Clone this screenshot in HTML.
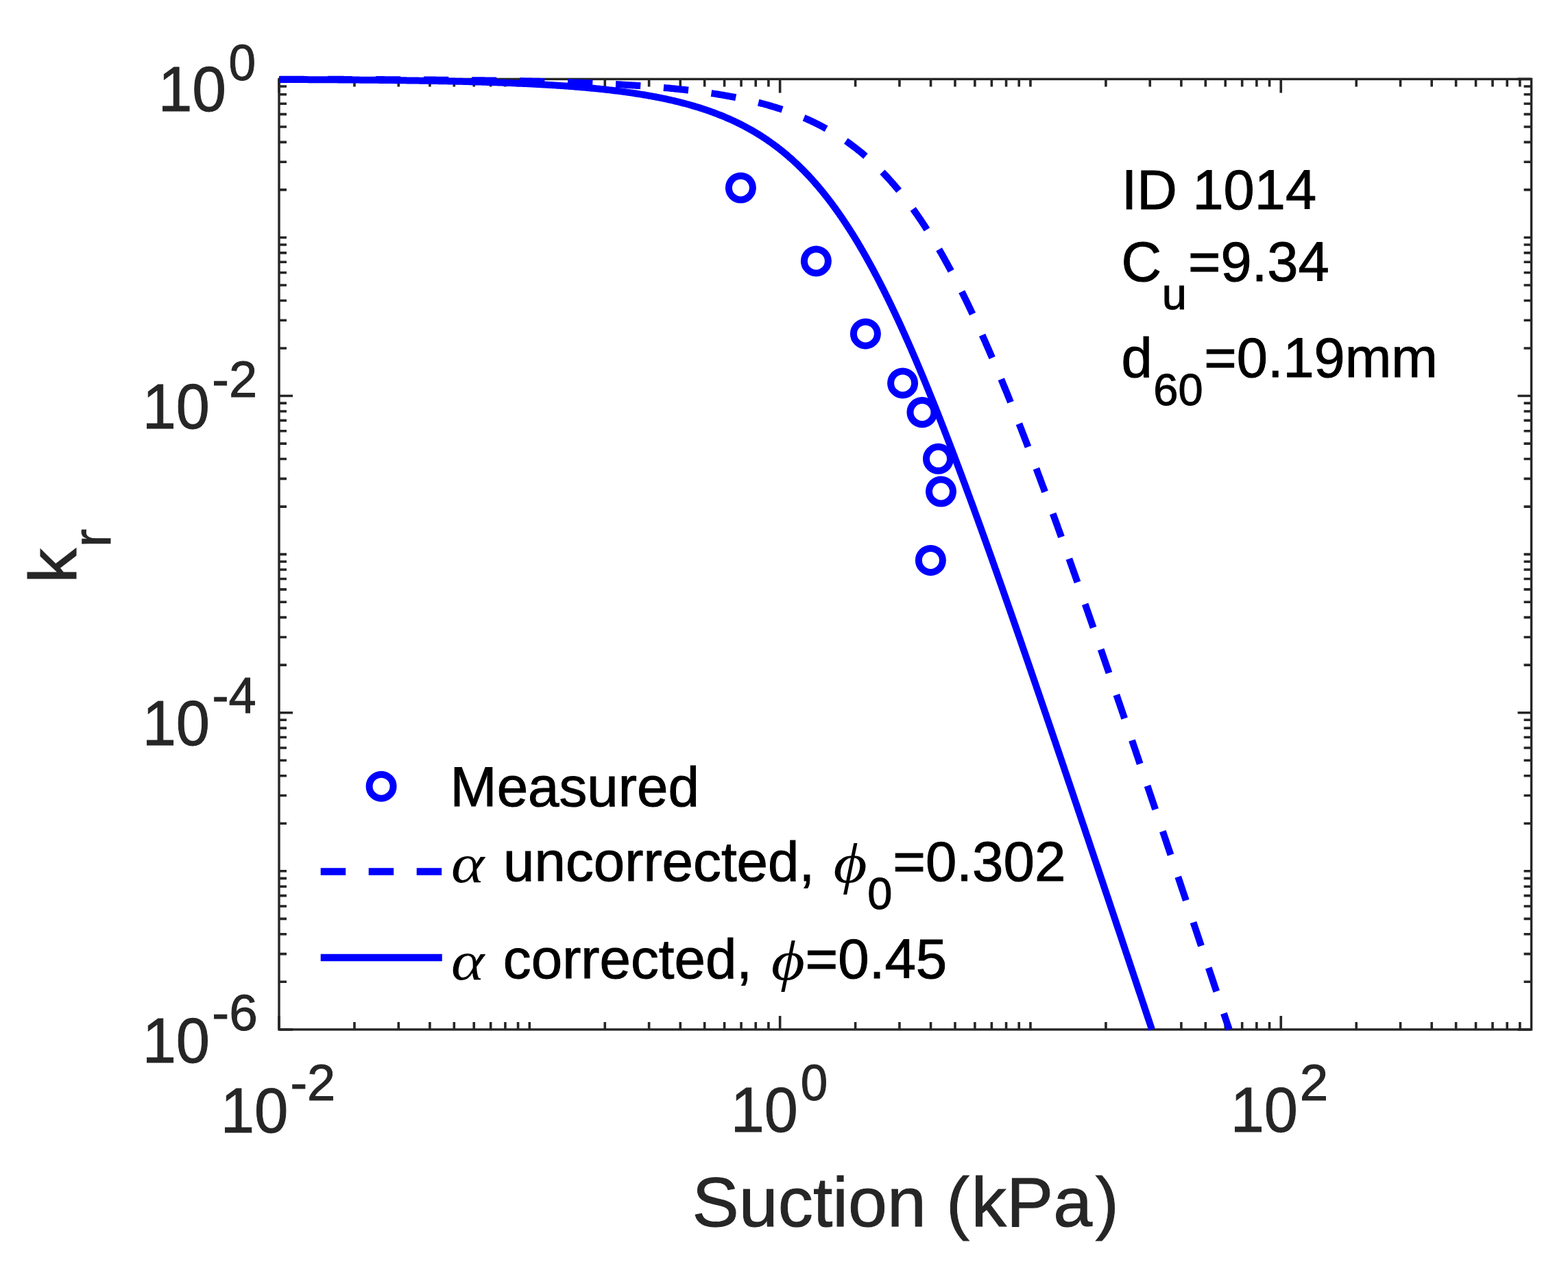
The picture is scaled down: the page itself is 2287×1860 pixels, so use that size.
<!DOCTYPE html>
<html><head><meta charset="utf-8"><title>kr vs suction</title>
<style>html,body{margin:0;padding:0;background:#fff;overflow:hidden;}svg{display:block;}</style></head>
<body><svg width="2287" height="1860" viewBox="0 0 2287 1860">
<rect x="0" y="0" width="2287" height="1860" fill="#fff"/>
<path d="M407.00,1501.88V1481.88M407.00,115.40V135.40M516.97,1501.88V1490.88M516.97,115.40V126.40M581.30,1501.88V1490.88M581.30,115.40V126.40M626.94,1501.88V1490.88M626.94,115.40V126.40M662.35,1501.88V1490.88M662.35,115.40V126.40M691.27,1501.88V1490.88M691.27,115.40V126.40M715.73,1501.88V1490.88M715.73,115.40V126.40M736.92,1501.88V1490.88M736.92,115.40V126.40M755.60,1501.88V1490.88M755.60,115.40V126.40M772.32,1501.88V1490.88M772.32,115.40V126.40M882.29,1501.88V1490.88M882.29,115.40V126.40M946.62,1501.88V1490.88M946.62,115.40V126.40M992.26,1501.88V1490.88M992.26,115.40V126.40M1027.67,1501.88V1490.88M1027.67,115.40V126.40M1056.59,1501.88V1490.88M1056.59,115.40V126.40M1081.05,1501.88V1490.88M1081.05,115.40V126.40M1102.24,1501.88V1490.88M1102.24,115.40V126.40M1120.92,1501.88V1490.88M1120.92,115.40V126.40M1137.64,1501.88V1481.88M1137.64,115.40V135.40M1247.61,1501.88V1490.88M1247.61,115.40V126.40M1311.94,1501.88V1490.88M1311.94,115.40V126.40M1357.58,1501.88V1490.88M1357.58,115.40V126.40M1392.99,1501.88V1490.88M1392.99,115.40V126.40M1421.91,1501.88V1490.88M1421.91,115.40V126.40M1446.37,1501.88V1490.88M1446.37,115.40V126.40M1467.56,1501.88V1490.88M1467.56,115.40V126.40M1486.24,1501.88V1490.88M1486.24,115.40V126.40M1502.96,1501.88V1490.88M1502.96,115.40V126.40M1612.93,1501.88V1490.88M1612.93,115.40V126.40M1677.26,1501.88V1490.88M1677.26,115.40V126.40M1722.90,1501.88V1490.88M1722.90,115.40V126.40M1758.31,1501.88V1490.88M1758.31,115.40V126.40M1787.23,1501.88V1490.88M1787.23,115.40V126.40M1811.69,1501.88V1490.88M1811.69,115.40V126.40M1832.88,1501.88V1490.88M1832.88,115.40V126.40M1851.56,1501.88V1490.88M1851.56,115.40V126.40M1868.28,1501.88V1481.88M1868.28,115.40V135.40M1978.25,1501.88V1490.88M1978.25,115.40V126.40M2042.58,1501.88V1490.88M2042.58,115.40V126.40M2088.22,1501.88V1490.88M2088.22,115.40V126.40M2123.63,1501.88V1490.88M2123.63,115.40V126.40M2152.55,1501.88V1490.88M2152.55,115.40V126.40M2177.01,1501.88V1490.88M2177.01,115.40V126.40M2198.20,1501.88V1490.88M2198.20,115.40V126.40M2216.88,1501.88V1490.88M2216.88,115.40V126.40M407.00,1501.88H427.00M2233.60,1501.88H2213.60M407.00,1432.32H418.00M2233.60,1432.32H2222.60M407.00,1391.63H418.00M2233.60,1391.63H2222.60M407.00,1362.76H418.00M2233.60,1362.76H2222.60M407.00,1340.36H418.00M2233.60,1340.36H2222.60M407.00,1322.06H418.00M2233.60,1322.06H2222.60M407.00,1306.59H418.00M2233.60,1306.59H2222.60M407.00,1293.19H418.00M2233.60,1293.19H2222.60M407.00,1281.37H418.00M2233.60,1281.37H2222.60M407.00,1270.80H418.00M2233.60,1270.80H2222.60M407.00,1201.24H418.00M2233.60,1201.24H2222.60M407.00,1160.55H418.00M2233.60,1160.55H2222.60M407.00,1131.68H418.00M2233.60,1131.68H2222.60M407.00,1109.28H418.00M2233.60,1109.28H2222.60M407.00,1090.98H418.00M2233.60,1090.98H2222.60M407.00,1075.51H418.00M2233.60,1075.51H2222.60M407.00,1062.11H418.00M2233.60,1062.11H2222.60M407.00,1050.29H418.00M2233.60,1050.29H2222.60M407.00,1039.72H427.00M2233.60,1039.72H2213.60M407.00,970.16H418.00M2233.60,970.16H2222.60M407.00,929.47H418.00M2233.60,929.47H2222.60M407.00,900.60H418.00M2233.60,900.60H2222.60M407.00,878.20H418.00M2233.60,878.20H2222.60M407.00,859.90H418.00M2233.60,859.90H2222.60M407.00,844.43H418.00M2233.60,844.43H2222.60M407.00,831.03H418.00M2233.60,831.03H2222.60M407.00,819.21H418.00M2233.60,819.21H2222.60M407.00,808.64H418.00M2233.60,808.64H2222.60M407.00,739.08H418.00M2233.60,739.08H2222.60M407.00,698.39H418.00M2233.60,698.39H2222.60M407.00,669.52H418.00M2233.60,669.52H2222.60M407.00,647.12H418.00M2233.60,647.12H2222.60M407.00,628.82H418.00M2233.60,628.82H2222.60M407.00,613.35H418.00M2233.60,613.35H2222.60M407.00,599.95H418.00M2233.60,599.95H2222.60M407.00,588.13H418.00M2233.60,588.13H2222.60M407.00,577.56H427.00M2233.60,577.56H2213.60M407.00,508.00H418.00M2233.60,508.00H2222.60M407.00,467.31H418.00M2233.60,467.31H2222.60M407.00,438.44H418.00M2233.60,438.44H2222.60M407.00,416.04H418.00M2233.60,416.04H2222.60M407.00,397.74H418.00M2233.60,397.74H2222.60M407.00,382.27H418.00M2233.60,382.27H2222.60M407.00,368.87H418.00M2233.60,368.87H2222.60M407.00,357.05H418.00M2233.60,357.05H2222.60M407.00,346.48H418.00M2233.60,346.48H2222.60M407.00,276.92H418.00M2233.60,276.92H2222.60M407.00,236.23H418.00M2233.60,236.23H2222.60M407.00,207.36H418.00M2233.60,207.36H2222.60M407.00,184.96H418.00M2233.60,184.96H2222.60M407.00,166.66H418.00M2233.60,166.66H2222.60M407.00,151.19H418.00M2233.60,151.19H2222.60M407.00,137.79H418.00M2233.60,137.79H2222.60M407.00,125.97H418.00M2233.60,125.97H2222.60M407.00,115.40H427.00M2233.60,115.40H2213.60" stroke="#262626" stroke-width="3.6" fill="none"/>
<rect x="407.0" y="115.4" width="1826.60" height="1386.48" stroke="#262626" stroke-width="3.4" fill="none"/>
<path d="M407.00,115.65 L409.28,115.65 L411.57,115.66 L413.85,115.66 L416.13,115.66 L418.42,115.67 L420.70,115.67 L422.98,115.68 L425.27,115.68 L427.55,115.69 L429.83,115.69 L432.12,115.69 L434.40,115.70 L436.68,115.70 L438.97,115.71 L441.25,115.71 L443.53,115.72 L445.82,115.72 L448.10,115.73 L450.38,115.73 L452.67,115.74 L454.95,115.74 L457.23,115.75 L459.51,115.76 L461.80,115.76 L464.08,115.77 L466.36,115.77 L468.65,115.78 L470.93,115.79 L473.21,115.79 L475.50,115.80 L477.78,115.80 L480.06,115.81 L482.35,115.82 L484.63,115.82 L486.91,115.83 L489.20,115.84 L491.48,115.84 L493.76,115.85 L496.05,115.86 L498.33,115.87 L500.61,115.87 L502.90,115.88 L505.18,115.89 L507.46,115.90 L509.75,115.90 L512.03,115.91 L514.31,115.92 L516.60,115.93 L518.88,115.94 L521.16,115.95 L523.45,115.95 L525.73,115.96 L528.01,115.97 L530.30,115.98 L532.58,115.99 L534.86,116.00 L537.15,116.01 L539.43,116.02 L541.71,116.03 L544.00,116.04 L546.28,116.05 L548.56,116.06 L550.84,116.07 L553.13,116.08 L555.41,116.09 L557.69,116.10 L559.98,116.11 L562.26,116.13 L564.54,116.14 L566.83,116.15 L569.11,116.16 L571.39,116.17 L573.68,116.19 L575.96,116.20 L578.24,116.21 L580.53,116.22 L582.81,116.24 L585.09,116.25 L587.38,116.26 L589.66,116.28 L591.94,116.29 L594.23,116.31 L596.51,116.32 L598.79,116.34 L601.08,116.35 L603.36,116.37 L605.64,116.38 L607.93,116.40 L610.21,116.41 L612.49,116.43 L614.78,116.45 L617.06,116.46 L619.34,116.48 L621.63,116.50 L623.91,116.51 L626.19,116.53 L628.48,116.55 L630.76,116.57 L633.04,116.59 L635.33,116.61 L637.61,116.63 L639.89,116.64 L642.17,116.66 L644.46,116.68 L646.74,116.71 L649.02,116.73 L651.31,116.75 L653.59,116.77 L655.87,116.79 L658.16,116.81 L660.44,116.84 L662.72,116.86 L665.01,116.88 L667.29,116.91 L669.57,116.93 L671.86,116.95 L674.14,116.98 L676.42,117.01 L678.71,117.03 L680.99,117.06 L683.27,117.08 L685.56,117.11 L687.84,117.14 L690.12,117.17 L692.41,117.19 L694.69,117.22 L696.97,117.25 L699.26,117.28 L701.54,117.31 L703.82,117.34 L706.11,117.37 L708.39,117.41 L710.67,117.44 L712.96,117.47 L715.24,117.50 L717.52,117.54 L719.81,117.57 L722.09,117.61 L724.37,117.64 L726.65,117.68 L728.94,117.71 L731.22,117.75 L733.50,117.79 L735.79,117.83 L738.07,117.87 L740.35,117.91 L742.64,117.95 L744.92,117.99 L747.20,118.03 L749.49,118.07 L751.77,118.11 L754.05,118.16 L756.34,118.20 L758.62,118.25 L760.90,118.29 L763.19,118.34 L765.47,118.39 L767.75,118.44 L770.04,118.48 L772.32,118.53 L774.60,118.58 L776.89,118.64 L779.17,118.69 L781.45,118.74 L783.74,118.79 L786.02,118.85 L788.30,118.90 L790.59,118.96 L792.87,119.02 L795.15,119.08 L797.44,119.14 L799.72,119.20 L802.00,119.26 L804.29,119.32 L806.57,119.38 L808.85,119.45 L811.14,119.51 L813.42,119.58 L815.70,119.65 L817.99,119.72 L820.27,119.78 L822.55,119.86 L824.83,119.93 L827.12,120.00 L829.40,120.08 L831.68,120.15 L833.97,120.23 L836.25,120.31 L838.53,120.39 L840.82,120.47 L843.10,120.55 L845.38,120.63 L847.67,120.72 L849.95,120.80 L852.23,120.89 L854.52,120.98 L856.80,121.07 L859.08,121.16 L861.37,121.25 L863.65,121.35 L865.93,121.45 L868.22,121.54 L870.50,121.64 L872.78,121.75 L875.07,121.85 L877.35,121.95 L879.63,122.06 L881.92,122.17 L884.20,122.28 L886.48,122.39 L888.77,122.50 L891.05,122.62 L893.33,122.74 L895.62,122.86 L897.90,122.98 L900.18,123.10 L902.47,123.23 L904.75,123.36 L907.03,123.49 L909.32,123.62 L911.60,123.75 L913.88,123.89 L916.16,124.03 L918.45,124.17 L920.73,124.31 L923.01,124.46 L925.30,124.61 L927.58,124.76 L929.86,124.91 L932.15,125.07 L934.43,125.22 L936.71,125.38 L939.00,125.55 L941.28,125.72 L943.56,125.88 L945.85,126.06 L948.13,126.23 L950.41,126.41 L952.70,126.59 L954.98,126.78 L957.26,126.96 L959.55,127.15 L961.83,127.35 L964.11,127.54 L966.40,127.74 L968.68,127.95 L970.96,128.15 L973.25,128.37 L975.53,128.58 L977.36,128.75 L979.18,128.93 L981.01,129.11 L982.84,129.29 L984.66,129.47 L986.49,129.66 L988.32,129.85 L990.14,130.04 L991.97,130.23 L993.80,130.43 L995.62,130.63 L997.45,130.83 L999.28,131.04 L1001.10,131.24 L1002.93,131.45 L1004.75,131.67 L1006.58,131.88 L1008.41,132.10 L1010.23,132.33 L1012.06,132.55 L1013.89,132.78 L1015.71,133.01 L1017.54,133.25 L1019.37,133.48 L1021.19,133.73 L1023.02,133.97 L1024.85,134.22 L1026.67,134.47 L1028.50,134.72 L1030.33,134.98 L1032.15,135.24 L1033.98,135.51 L1035.81,135.78 L1037.63,136.05 L1039.46,136.33 L1041.29,136.61 L1043.11,136.90 L1044.94,137.18 L1046.77,137.48 L1048.59,137.77 L1050.42,138.08 L1052.25,138.38 L1054.07,138.69 L1055.90,139.00 L1057.73,139.32 L1059.55,139.64 L1061.38,139.97 L1063.21,140.30 L1065.03,140.64 L1066.86,140.98 L1068.69,141.33 L1070.51,141.68 L1072.34,142.03 L1074.17,142.40 L1075.99,142.76 L1077.82,143.13 L1079.65,143.51 L1081.47,143.89 L1083.30,144.28 L1085.13,144.67 L1086.95,145.07 L1088.78,145.47 L1090.61,145.88 L1092.43,146.30 L1094.26,146.72 L1096.08,147.15 L1097.91,147.58 L1099.74,148.02 L1101.56,148.47 L1103.39,148.92 L1105.22,149.38 L1107.04,149.84 L1108.87,150.32 L1110.70,150.80 L1112.52,151.28 L1114.35,151.77 L1116.18,152.27 L1118.00,152.78 L1119.83,153.30 L1121.66,153.82 L1123.48,154.35 L1125.31,154.88 L1127.14,155.43 L1128.96,155.98 L1130.79,156.54 L1132.62,157.11 L1134.44,157.69 L1136.27,158.27 L1138.10,158.87 L1139.92,159.47 L1141.75,160.08 L1143.58,160.70 L1145.40,161.33 L1147.23,161.96 L1149.06,162.61 L1150.88,163.27 L1152.71,163.93 L1154.54,164.61 L1156.36,165.29 L1158.19,165.99 L1160.02,166.69 L1161.84,167.41 L1163.67,168.14 L1165.50,168.87 L1167.32,169.62 L1169.15,170.38 L1170.98,171.15 L1172.80,171.93 L1174.63,172.72 L1176.46,173.52 L1178.28,174.34 L1180.11,175.16 L1181.94,176.00 L1183.30,176.64 L1184.67,177.28 L1186.04,177.93 L1187.41,178.59 L1188.78,179.26 L1190.15,179.93 L1191.52,180.61 L1192.89,181.30 L1194.26,181.99 L1195.63,182.69 L1197.00,183.40 L1198.37,184.12 L1199.74,184.85 L1201.11,185.58 L1202.48,186.32 L1203.85,187.07 L1205.22,187.83 L1206.59,188.59 L1207.96,189.36 L1209.33,190.15 L1210.70,190.94 L1212.07,191.73 L1213.44,192.54 L1214.81,193.36 L1216.18,194.18 L1217.55,195.02 L1218.92,195.86 L1220.29,196.71 L1221.66,197.57 L1223.03,198.44 L1224.40,199.32 L1225.77,200.21 L1227.14,201.11 L1228.51,202.02 L1229.88,202.93 L1231.25,203.86 L1232.62,204.80 L1233.99,205.75 L1235.36,206.70 L1236.73,207.67 L1238.10,208.65 L1239.47,209.64 L1240.84,210.63 L1242.21,211.64 L1243.58,212.66 L1244.95,213.69 L1246.32,214.73 L1247.69,215.79 L1249.06,216.85 L1250.43,217.92 L1251.80,219.01 L1253.17,220.11 L1254.54,221.21 L1255.91,222.33 L1257.28,223.46 L1258.65,224.61 L1260.02,225.76 L1261.39,226.93 L1262.76,228.11 L1264.13,229.30 L1265.50,230.50 L1266.87,231.71 L1268.24,232.94 L1269.61,234.18 L1270.98,235.43 L1272.35,236.70 L1273.72,237.98 L1275.09,239.27 L1276.46,240.57 L1277.83,241.89 L1279.20,243.22 L1280.57,244.56 L1281.94,245.91 L1283.31,247.28 L1284.68,248.67 L1286.05,250.06 L1287.42,251.47 L1288.79,252.90 L1290.16,254.34 L1291.53,255.79 L1292.90,257.25 L1294.27,258.73 L1295.64,260.23 L1297.01,261.74 L1298.38,263.26 L1299.75,264.80 L1301.12,266.35 L1302.49,267.91 L1303.86,269.49 L1305.23,271.09 L1306.60,272.70 L1307.97,274.33 L1308.88,275.42 L1309.80,276.52 L1310.71,277.62 L1311.62,278.73 L1312.54,279.85 L1313.45,280.98 L1314.36,282.11 L1315.28,283.25 L1316.19,284.39 L1317.10,285.55 L1318.02,286.71 L1318.93,287.87 L1319.84,289.05 L1320.76,290.23 L1321.67,291.42 L1322.58,292.61 L1323.50,293.81 L1324.41,295.02 L1325.32,296.23 L1326.24,297.46 L1327.15,298.69 L1328.06,299.92 L1328.98,301.17 L1329.89,302.42 L1330.80,303.67 L1331.72,304.94 L1332.63,306.21 L1333.54,307.49 L1334.46,308.77 L1335.37,310.07 L1336.28,311.37 L1337.20,312.68 L1338.11,313.99 L1339.02,315.31 L1339.94,316.64 L1340.85,317.98 L1341.76,319.32 L1342.68,320.67 L1343.59,322.03 L1344.50,323.40 L1345.42,324.77 L1346.33,326.15 L1347.24,327.54 L1348.16,328.93 L1349.07,330.33 L1349.98,331.74 L1350.90,333.16 L1351.81,334.58 L1352.72,336.01 L1353.64,337.45 L1354.55,338.90 L1355.46,340.35 L1356.38,341.81 L1357.29,343.28 L1358.20,344.75 L1359.12,346.24 L1360.03,347.73 L1360.94,349.22 L1361.86,350.73 L1362.77,352.24 L1363.68,353.76 L1364.60,355.28 L1365.51,356.82 L1366.42,358.36 L1367.33,359.91 L1368.25,361.46 L1369.16,363.03 L1370.07,364.60 L1370.99,366.17 L1371.90,367.76 L1372.81,369.35 L1373.73,370.95 L1374.64,372.56 L1375.55,374.17 L1376.47,375.79 L1377.38,377.42 L1378.29,379.06 L1379.21,380.70 L1380.12,382.35 L1381.03,384.01 L1381.95,385.67 L1382.86,387.34 L1383.77,389.02 L1384.69,390.71 L1385.60,392.40 L1386.51,394.10 L1387.43,395.81 L1388.34,397.52 L1389.25,399.24 L1390.17,400.97 L1391.08,402.71 L1391.99,404.45 L1392.91,406.20 L1393.82,407.96 L1394.73,409.72 L1395.65,411.50 L1396.56,413.27 L1397.47,415.06 L1398.39,416.85 L1399.30,418.65 L1400.21,420.46 L1401.13,422.27 L1402.04,424.09 L1402.95,425.91 L1403.87,427.75 L1404.78,429.59 L1405.69,431.43 L1406.61,433.29 L1407.52,435.15 L1408.43,437.01 L1409.35,438.89 L1410.26,440.77 L1411.17,442.66 L1412.09,444.55 L1413.00,446.45 L1413.91,448.36 L1414.83,450.27 L1415.74,452.19 L1416.65,454.12 L1417.57,456.05 L1418.48,457.99 L1419.39,459.93 L1420.31,461.89 L1421.22,463.84 L1422.13,465.81 L1423.05,467.78 L1423.96,469.76 L1424.87,471.74 L1425.79,473.73 L1426.70,475.73 L1427.61,477.73 L1428.53,479.74 L1429.44,481.75 L1430.35,483.77 L1431.27,485.80 L1432.18,487.83 L1433.09,489.87 L1434.01,491.92 L1434.92,493.97 L1435.83,496.02 L1436.75,498.09 L1437.66,500.15 L1438.57,502.23 L1439.49,504.31 L1440.40,506.39 L1441.31,508.48 L1442.23,510.58 L1443.14,512.68 L1444.05,514.79 L1444.97,516.91 L1445.88,519.03 L1446.79,521.15 L1447.71,523.28 L1448.62,525.42 L1449.53,527.56 L1450.45,529.70 L1451.36,531.86 L1452.27,534.01 L1453.19,536.18 L1454.10,538.35 L1455.01,540.52 L1455.93,542.70 L1456.84,544.88 L1457.75,547.07 L1458.66,549.26 L1459.58,551.46 L1460.49,553.67 L1461.40,555.87 L1462.32,558.09 L1463.23,560.31 L1464.14,562.53 L1465.06,564.76 L1465.97,566.99 L1466.88,569.23 L1467.80,571.47 L1468.71,573.72 L1469.62,575.98 L1470.54,578.23 L1471.45,580.49 L1472.36,582.76 L1473.28,585.03 L1474.19,587.31 L1475.10,589.59 L1476.02,591.87 L1476.93,594.16 L1477.84,596.45 L1478.76,598.75 L1479.67,601.05 L1480.58,603.36 L1481.50,605.67 L1482.41,607.99 L1483.32,610.30 L1484.24,612.63 L1485.15,614.95 L1486.06,617.29 L1486.98,619.62 L1487.89,621.96 L1488.80,624.31 L1489.72,626.65 L1490.63,629.00 L1491.54,631.36 L1492.46,633.72 L1493.37,636.08 L1494.28,638.45 L1495.20,640.82 L1496.11,643.19 L1497.02,645.57 L1497.94,647.96 L1498.85,650.34 L1499.76,652.73 L1500.68,655.12 L1501.59,657.52 L1502.50,659.92 L1503.42,662.32 L1504.33,664.73 L1505.24,667.14 L1506.16,669.55 L1507.07,671.97 L1507.98,674.39 L1508.90,676.82 L1509.81,679.24 L1510.72,681.67 L1511.64,684.11 L1512.55,686.55 L1513.46,688.99 L1514.38,691.43 L1515.29,693.88 L1516.20,696.33 L1517.12,698.78 L1518.03,701.23 L1518.94,703.69 L1519.86,706.15 L1520.77,708.62 L1521.68,711.09 L1522.60,713.56 L1523.51,716.03 L1524.42,718.51 L1525.34,720.99 L1526.25,723.47 L1527.16,725.95 L1528.08,728.44 L1528.99,730.93 L1529.90,733.42 L1530.82,735.92 L1531.73,738.42 L1532.64,740.92 L1533.56,743.42 L1534.47,745.93 L1535.38,748.44 L1536.30,750.95 L1537.21,753.46 L1538.12,755.98 L1539.04,758.50 L1539.95,761.02 L1540.86,763.54 L1541.78,766.07 L1542.69,768.60 L1543.60,771.13 L1544.52,773.66 L1545.43,776.19 L1546.34,778.73 L1547.26,781.27 L1548.17,783.81 L1549.08,786.36 L1549.99,788.90 L1550.91,791.45 L1551.82,794.00 L1552.73,796.56 L1553.65,799.11 L1554.56,801.67 L1555.47,804.23 L1556.39,806.79 L1557.30,809.35 L1558.21,811.91 L1559.13,814.48 L1560.04,817.05 L1560.95,819.62 L1561.87,822.19 L1562.78,824.77 L1563.69,827.34 L1564.61,829.92 L1565.52,832.50 L1566.43,835.09 L1567.35,837.67 L1568.26,840.25 L1569.17,842.84 L1570.09,845.43 L1571.00,848.02 L1571.91,850.61 L1572.83,853.21 L1573.74,855.80 L1574.65,858.40 L1575.57,861.00 L1576.48,863.60 L1577.39,866.20 L1578.31,868.81 L1579.22,871.41 L1580.13,874.02 L1581.05,876.63 L1581.96,879.24 L1582.87,881.85 L1583.79,884.46 L1584.70,887.08 L1585.61,889.69 L1586.53,892.31 L1587.44,894.93 L1588.35,897.55 L1589.27,900.17 L1590.18,902.79 L1591.09,905.42 L1592.01,908.04 L1592.92,910.67 L1593.83,913.30 L1594.75,915.93 L1595.66,918.56 L1596.57,921.19 L1597.49,923.82 L1598.40,926.46 L1599.31,929.09 L1600.23,931.73 L1601.14,934.37 L1602.05,937.01 L1602.97,939.65 L1603.88,942.29 L1604.79,944.93 L1605.71,947.58 L1606.62,950.22 L1607.53,952.87 L1608.45,955.52 L1609.36,958.17 L1610.27,960.81 L1611.19,963.47 L1612.10,966.12 L1613.01,968.77 L1613.93,971.42 L1614.84,974.08 L1615.75,976.73 L1616.67,979.39 L1617.58,982.05 L1618.49,984.71 L1619.41,987.37 L1620.32,990.03 L1621.23,992.69 L1622.15,995.35 L1623.06,998.02 L1623.97,1000.68 L1624.89,1003.35 L1625.80,1006.01 L1626.71,1008.68 L1627.63,1011.35 L1628.54,1014.02 L1629.45,1016.69 L1630.37,1019.36 L1631.28,1022.03 L1632.19,1024.70 L1633.11,1027.37 L1634.02,1030.05 L1634.93,1032.72 L1635.85,1035.40 L1636.76,1038.07 L1637.67,1040.75 L1638.59,1043.43 L1639.50,1046.11 L1640.41,1048.79 L1641.32,1051.47 L1642.24,1054.15 L1643.15,1056.83 L1644.06,1059.51 L1644.98,1062.19 L1645.89,1064.88 L1646.80,1067.56 L1647.72,1070.24 L1648.63,1072.93 L1649.54,1075.62 L1650.46,1078.30 L1651.37,1080.99 L1652.28,1083.68 L1653.20,1086.37 L1654.11,1089.06 L1655.02,1091.75 L1655.94,1094.44 L1656.85,1097.13 L1657.76,1099.82 L1658.68,1102.51 L1659.59,1105.21 L1660.50,1107.90 L1661.42,1110.59 L1662.33,1113.29 L1663.24,1115.98 L1664.16,1118.68 L1665.07,1121.38 L1665.98,1124.07 L1666.90,1126.77 L1667.81,1129.47 L1668.72,1132.17 L1669.64,1134.87 L1670.55,1137.56 L1671.46,1140.26 L1672.38,1142.97 L1673.29,1145.67 L1674.20,1148.37 L1675.12,1151.07 L1676.03,1153.77 L1676.94,1156.48 L1677.86,1159.18 L1678.77,1161.88 L1679.68,1164.59 L1680.60,1167.29 L1681.51,1170.00 L1682.42,1172.70 L1683.34,1175.41 L1684.25,1178.11 L1685.16,1180.82 L1686.08,1183.53 L1686.99,1186.24 L1687.90,1188.94 L1688.82,1191.65 L1689.73,1194.36 L1690.64,1197.07 L1691.56,1199.78 L1692.47,1202.49 L1693.38,1205.20 L1694.30,1207.91 L1695.21,1210.62 L1696.12,1213.34 L1697.04,1216.05 L1697.95,1218.76 L1698.86,1221.47 L1699.78,1224.19 L1700.69,1226.90 L1701.60,1229.61 L1702.52,1232.33 L1703.43,1235.04 L1704.34,1237.76 L1705.26,1240.47 L1706.17,1243.19 L1707.08,1245.90 L1708.00,1248.62 L1708.91,1251.33 L1709.82,1254.05 L1710.74,1256.77 L1711.65,1259.48 L1712.56,1262.20 L1713.48,1264.92 L1714.39,1267.64 L1715.30,1270.36 L1716.22,1273.07 L1717.13,1275.79 L1718.04,1278.51 L1718.96,1281.23 L1719.87,1283.95 L1720.78,1286.67 L1721.70,1289.39 L1722.61,1292.11 L1723.52,1294.83 L1724.44,1297.55 L1725.35,1300.28 L1726.26,1303.00 L1727.18,1305.72 L1728.09,1308.44 L1729.00,1311.16 L1729.92,1313.89 L1730.83,1316.61 L1731.74,1319.33 L1732.65,1322.05 L1733.57,1324.78 L1734.48,1327.50 L1735.39,1330.23 L1736.31,1332.95 L1737.22,1335.67 L1738.13,1338.40 L1739.05,1341.12 L1739.96,1343.85 L1740.87,1346.57 L1741.79,1349.30 L1742.70,1352.02 L1743.61,1354.75 L1744.53,1357.48 L1745.44,1360.20 L1746.35,1362.93 L1747.27,1365.65 L1748.18,1368.38 L1749.09,1371.11 L1750.01,1373.83 L1750.92,1376.56 L1751.83,1379.29 L1752.75,1382.02 L1753.66,1384.74 L1754.57,1387.47 L1755.49,1390.20 L1756.40,1392.93 L1757.31,1395.66 L1758.23,1398.39 L1759.14,1401.11 L1760.05,1403.84 L1760.97,1406.57 L1761.88,1409.30 L1762.79,1412.03 L1763.71,1414.76 L1764.62,1417.49 L1765.53,1420.22 L1766.45,1422.95 L1767.36,1425.68 L1768.27,1428.41 L1769.19,1431.14 L1770.10,1433.87 L1771.01,1436.60 L1771.93,1439.33 L1772.84,1442.06 L1773.75,1444.79 L1774.67,1447.53 L1775.58,1450.26 L1776.49,1452.99 L1777.41,1455.72 L1778.32,1458.45 L1779.23,1461.18 L1780.15,1463.92 L1781.06,1466.65 L1781.97,1469.38 L1782.89,1472.11 L1783.80,1474.84 L1784.71,1477.58 L1785.63,1480.31 L1786.54,1483.04 L1787.45,1485.78 L1788.37,1488.51 L1789.28,1491.24 L1790.19,1493.98 L1791.11,1496.71 L1792.02,1499.44 L1792.83,1501.88" stroke="#0000ff" stroke-width="10" fill="none" stroke-dasharray="36.3 33.75" stroke-dashoffset="-0.81" stroke-linejoin="round"/>
<path d="M407.00,115.94 L409.28,115.95 L411.57,115.96 L413.85,115.97 L416.13,115.98 L418.42,115.99 L420.70,115.99 L422.98,116.00 L425.27,116.01 L427.55,116.02 L429.83,116.03 L432.12,116.04 L434.40,116.05 L436.68,116.06 L438.97,116.07 L441.25,116.09 L443.53,116.10 L445.82,116.11 L448.10,116.12 L450.38,116.13 L452.67,116.14 L454.95,116.15 L457.23,116.17 L459.51,116.18 L461.80,116.19 L464.08,116.20 L466.36,116.22 L468.65,116.23 L470.93,116.24 L473.21,116.26 L475.50,116.27 L477.78,116.28 L480.06,116.30 L482.35,116.31 L484.63,116.33 L486.91,116.34 L489.20,116.36 L491.48,116.37 L493.76,116.39 L496.05,116.40 L498.33,116.42 L500.61,116.44 L502.90,116.45 L505.18,116.47 L507.46,116.49 L509.75,116.50 L512.03,116.52 L514.31,116.54 L516.60,116.56 L518.88,116.58 L521.16,116.59 L523.45,116.61 L525.73,116.63 L528.01,116.65 L530.30,116.67 L532.58,116.69 L534.86,116.71 L537.15,116.73 L539.43,116.76 L541.71,116.78 L544.00,116.80 L546.28,116.82 L548.56,116.84 L550.84,116.87 L553.13,116.89 L555.41,116.92 L557.69,116.94 L559.98,116.96 L562.26,116.99 L564.54,117.01 L566.83,117.04 L569.11,117.07 L571.39,117.09 L573.68,117.12 L575.96,117.15 L578.24,117.18 L580.53,117.21 L582.81,117.23 L585.09,117.26 L587.38,117.29 L589.66,117.32 L591.94,117.35 L594.23,117.39 L596.51,117.42 L598.79,117.45 L601.08,117.48 L603.36,117.52 L605.64,117.55 L607.93,117.58 L610.21,117.62 L612.49,117.66 L614.78,117.69 L617.06,117.73 L619.34,117.77 L621.63,117.80 L623.91,117.84 L626.19,117.88 L628.48,117.92 L630.76,117.96 L633.04,118.00 L635.33,118.05 L637.61,118.09 L639.89,118.13 L642.17,118.17 L644.46,118.22 L646.74,118.26 L649.02,118.31 L651.31,118.36 L653.59,118.41 L655.87,118.45 L658.16,118.50 L660.44,118.55 L662.72,118.60 L665.01,118.66 L667.29,118.71 L669.57,118.76 L671.86,118.82 L674.14,118.87 L676.42,118.93 L678.71,118.98 L680.99,119.04 L683.27,119.10 L685.56,119.16 L687.84,119.22 L690.12,119.28 L692.41,119.34 L694.69,119.41 L696.97,119.47 L699.26,119.54 L701.54,119.60 L703.82,119.67 L706.11,119.74 L708.39,119.81 L710.67,119.88 L712.96,119.96 L715.24,120.03 L717.52,120.10 L719.81,120.18 L722.09,120.26 L724.37,120.34 L726.65,120.42 L728.94,120.50 L731.22,120.58 L733.50,120.66 L735.79,120.75 L738.07,120.84 L740.35,120.92 L742.64,121.01 L744.92,121.10 L747.20,121.20 L749.49,121.29 L751.77,121.39 L754.05,121.48 L756.34,121.58 L758.62,121.68 L760.90,121.79 L763.19,121.89 L765.47,121.99 L767.75,122.10 L770.04,122.21 L772.32,122.32 L774.60,122.43 L776.89,122.55 L779.17,122.67 L781.45,122.78 L783.74,122.90 L786.02,123.03 L788.30,123.15 L790.59,123.28 L792.87,123.41 L795.15,123.54 L797.44,123.67 L799.72,123.80 L802.00,123.94 L804.29,124.08 L806.57,124.22 L808.85,124.37 L811.14,124.51 L813.42,124.66 L815.70,124.81 L817.99,124.97 L820.27,125.13 L822.55,125.29 L824.83,125.45 L827.12,125.61 L829.40,125.78 L831.68,125.95 L833.97,126.12 L836.25,126.30 L838.53,126.48 L840.82,126.66 L843.10,126.85 L845.38,127.04 L847.67,127.23 L849.95,127.42 L852.23,127.62 L854.52,127.82 L856.80,128.03 L859.08,128.24 L861.37,128.45 L863.65,128.66 L865.48,128.84 L867.30,129.02 L869.13,129.20 L870.96,129.38 L872.78,129.56 L874.61,129.75 L876.44,129.94 L878.26,130.13 L880.09,130.33 L881.92,130.53 L883.74,130.73 L885.57,130.93 L887.40,131.14 L889.22,131.35 L891.05,131.56 L892.88,131.77 L894.70,131.99 L896.53,132.21 L898.36,132.43 L900.18,132.66 L902.01,132.89 L903.84,133.12 L905.66,133.36 L907.49,133.60 L909.32,133.84 L911.14,134.09 L912.97,134.34 L914.79,134.59 L916.62,134.85 L918.45,135.11 L920.27,135.37 L922.10,135.64 L923.93,135.91 L925.75,136.19 L927.58,136.47 L929.41,136.75 L931.23,137.03 L933.06,137.33 L934.89,137.62 L936.71,137.92 L938.54,138.22 L940.37,138.53 L942.19,138.84 L944.02,139.16 L945.85,139.48 L947.67,139.80 L949.50,140.13 L951.33,140.47 L953.15,140.80 L954.98,141.15 L956.81,141.50 L958.63,141.85 L960.46,142.21 L962.29,142.57 L964.11,142.94 L965.94,143.31 L967.77,143.69 L969.59,144.08 L971.42,144.47 L973.25,144.86 L975.07,145.26 L976.90,145.67 L978.73,146.08 L980.55,146.50 L982.38,146.93 L984.21,147.36 L986.03,147.79 L987.86,148.24 L989.69,148.69 L991.51,149.14 L993.34,149.60 L995.17,150.07 L996.99,150.55 L998.82,151.03 L1000.64,151.52 L1002.47,152.01 L1004.30,152.52 L1006.12,153.03 L1007.95,153.55 L1009.78,154.07 L1011.60,154.60 L1013.43,155.15 L1015.26,155.69 L1017.08,156.25 L1018.91,156.81 L1020.74,157.39 L1022.56,157.97 L1024.39,158.56 L1026.22,159.15 L1028.04,159.76 L1029.87,160.38 L1031.70,161.00 L1033.52,161.63 L1035.35,162.27 L1037.18,162.93 L1039.00,163.59 L1040.83,164.26 L1042.66,164.94 L1044.48,165.63 L1046.31,166.33 L1048.14,167.04 L1049.96,167.76 L1051.79,168.49 L1053.62,169.23 L1055.44,169.98 L1057.27,170.75 L1059.10,171.52 L1060.92,172.31 L1062.75,173.11 L1064.58,173.91 L1066.40,174.73 L1068.23,175.57 L1069.60,176.20 L1070.97,176.84 L1072.34,177.48 L1073.71,178.14 L1075.08,178.80 L1076.45,179.47 L1077.82,180.14 L1079.19,180.82 L1080.56,181.51 L1081.93,182.21 L1083.30,182.91 L1084.67,183.62 L1086.04,184.34 L1087.41,185.07 L1088.78,185.81 L1090.15,186.55 L1091.52,187.30 L1092.89,188.06 L1094.26,188.83 L1095.63,189.60 L1097.00,190.39 L1098.37,191.18 L1099.74,191.98 L1101.11,192.79 L1102.48,193.61 L1103.85,194.44 L1105.22,195.28 L1106.59,196.12 L1107.96,196.98 L1109.33,197.84 L1110.70,198.71 L1112.07,199.60 L1113.44,200.49 L1114.81,201.39 L1116.18,202.30 L1117.55,203.22 L1118.92,204.15 L1120.29,205.09 L1121.66,206.04 L1123.03,207.00 L1124.40,207.97 L1125.77,208.95 L1127.14,209.94 L1128.51,210.95 L1129.88,211.96 L1131.25,212.98 L1132.62,214.01 L1133.99,215.06 L1135.36,216.11 L1136.73,217.18 L1138.10,218.26 L1139.47,219.35 L1140.84,220.45 L1142.21,221.56 L1143.58,222.68 L1144.95,223.82 L1146.32,224.96 L1147.69,226.12 L1149.06,227.29 L1150.43,228.47 L1151.80,229.67 L1153.17,230.87 L1154.54,232.09 L1155.91,233.32 L1157.28,234.57 L1158.65,235.82 L1160.02,237.09 L1161.39,238.37 L1162.76,239.67 L1164.13,240.98 L1165.50,242.30 L1166.87,243.63 L1168.24,244.98 L1169.61,246.34 L1170.98,247.71 L1172.35,249.10 L1173.72,250.50 L1175.09,251.91 L1176.46,253.34 L1177.83,254.78 L1179.20,256.24 L1180.57,257.71 L1181.94,259.19 L1183.30,260.69 L1184.67,262.20 L1186.04,263.73 L1187.41,265.27 L1188.78,266.83 L1190.15,268.40 L1191.52,269.99 L1192.89,271.59 L1194.26,273.20 L1195.63,274.83 L1196.55,275.93 L1197.46,277.03 L1198.37,278.14 L1199.29,279.25 L1200.20,280.37 L1201.11,281.50 L1202.03,282.64 L1202.94,283.78 L1203.85,284.93 L1204.77,286.09 L1205.68,287.25 L1206.59,288.42 L1207.51,289.59 L1208.42,290.78 L1209.33,291.97 L1210.25,293.17 L1211.16,294.37 L1212.07,295.58 L1212.99,296.80 L1213.90,298.03 L1214.81,299.26 L1215.73,300.50 L1216.64,301.74 L1217.55,303.00 L1218.47,304.26 L1219.38,305.53 L1220.29,306.80 L1221.21,308.08 L1222.12,309.37 L1223.03,310.67 L1223.95,311.97 L1224.86,313.29 L1225.77,314.60 L1226.69,315.93 L1227.60,317.26 L1228.51,318.60 L1229.43,319.95 L1230.34,321.30 L1231.25,322.66 L1232.17,324.03 L1233.08,325.41 L1233.99,326.79 L1234.91,328.18 L1235.82,329.58 L1236.73,330.99 L1237.65,332.40 L1238.56,333.82 L1239.47,335.25 L1240.39,336.68 L1241.30,338.12 L1242.21,339.57 L1243.13,341.03 L1244.04,342.49 L1244.95,343.96 L1245.87,345.44 L1246.78,346.93 L1247.69,348.42 L1248.61,349.92 L1249.52,351.43 L1250.43,352.94 L1251.35,354.46 L1252.26,355.99 L1253.17,357.53 L1254.09,359.08 L1255.00,360.63 L1255.91,362.19 L1256.83,363.75 L1257.74,365.33 L1258.65,366.91 L1259.57,368.50 L1260.48,370.09 L1261.39,371.69 L1262.31,373.30 L1263.22,374.92 L1264.13,376.55 L1265.05,378.18 L1265.96,379.82 L1266.87,381.46 L1267.79,383.12 L1268.70,384.78 L1269.61,386.45 L1270.53,388.12 L1271.44,389.80 L1272.35,391.49 L1273.27,393.19 L1274.18,394.89 L1275.09,396.60 L1276.00,398.32 L1276.92,400.05 L1277.83,401.78 L1278.74,403.52 L1279.66,405.26 L1280.57,407.02 L1281.48,408.78 L1282.40,410.55 L1283.31,412.32 L1284.22,414.10 L1285.14,415.89 L1286.05,417.68 L1286.96,419.49 L1287.88,421.30 L1288.79,423.11 L1289.70,424.93 L1290.62,426.76 L1291.53,428.60 L1292.44,430.44 L1293.36,432.29 L1294.27,434.15 L1295.18,436.01 L1296.10,437.88 L1297.01,439.76 L1297.92,441.64 L1298.84,443.53 L1299.75,445.43 L1300.66,447.33 L1301.58,449.24 L1302.49,451.16 L1303.40,453.08 L1304.32,455.01 L1305.23,456.95 L1306.14,458.89 L1307.06,460.84 L1307.97,462.79 L1308.88,464.76 L1309.80,466.72 L1310.71,468.70 L1311.62,470.68 L1312.54,472.66 L1313.45,474.66 L1314.36,476.66 L1315.28,478.66 L1316.19,480.67 L1317.10,482.69 L1318.02,484.71 L1318.93,486.74 L1319.84,488.78 L1320.76,490.82 L1321.67,492.87 L1322.58,494.92 L1323.50,496.98 L1324.41,499.04 L1325.32,501.12 L1326.24,503.19 L1327.15,505.27 L1328.06,507.36 L1328.98,509.46 L1329.89,511.56 L1330.80,513.66 L1331.72,515.77 L1332.63,517.89 L1333.54,520.01 L1334.46,522.14 L1335.37,524.27 L1336.28,526.41 L1337.20,528.55 L1338.11,530.70 L1339.02,532.86 L1339.94,535.02 L1340.85,537.18 L1341.76,539.35 L1342.68,541.53 L1343.59,543.71 L1344.50,545.90 L1345.42,548.09 L1346.33,550.28 L1347.24,552.48 L1348.16,554.69 L1349.07,556.90 L1349.98,559.12 L1350.90,561.34 L1351.81,563.57 L1352.72,565.80 L1353.64,568.03 L1354.55,570.27 L1355.46,572.52 L1356.38,574.77 L1357.29,577.02 L1358.20,579.28 L1359.12,581.55 L1360.03,583.81 L1360.94,586.09 L1361.86,588.36 L1362.77,590.65 L1363.68,592.93 L1364.60,595.22 L1365.51,597.52 L1366.42,599.82 L1367.33,602.12 L1368.25,604.43 L1369.16,606.74 L1370.07,609.06 L1370.99,611.38 L1371.90,613.71 L1372.81,616.04 L1373.73,618.37 L1374.64,620.71 L1375.55,623.05 L1376.47,625.39 L1377.38,627.74 L1378.29,630.10 L1379.21,632.45 L1380.12,634.82 L1381.03,637.18 L1381.95,639.55 L1382.86,641.92 L1383.77,644.30 L1384.69,646.68 L1385.60,649.06 L1386.51,651.45 L1387.43,653.84 L1388.34,656.23 L1389.25,658.63 L1390.17,661.03 L1391.08,663.44 L1391.99,665.85 L1392.91,668.26 L1393.82,670.68 L1394.73,673.10 L1395.65,675.52 L1396.56,677.94 L1397.47,680.37 L1398.39,682.80 L1399.30,685.24 L1400.21,687.68 L1401.13,690.12 L1402.04,692.56 L1402.95,695.01 L1403.87,697.46 L1404.78,699.92 L1405.69,702.37 L1406.61,704.84 L1407.52,707.30 L1408.43,709.76 L1409.35,712.23 L1410.26,714.71 L1411.17,717.18 L1412.09,719.66 L1413.00,722.14 L1413.91,724.62 L1414.83,727.11 L1415.74,729.60 L1416.65,732.09 L1417.57,734.58 L1418.48,737.08 L1419.39,739.58 L1420.31,742.08 L1421.22,744.59 L1422.13,747.09 L1423.05,749.60 L1423.96,752.12 L1424.87,754.63 L1425.79,757.15 L1426.70,759.67 L1427.61,762.19 L1428.53,764.71 L1429.44,767.24 L1430.35,769.77 L1431.27,772.30 L1432.18,774.84 L1433.09,777.37 L1434.01,779.91 L1434.92,782.45 L1435.83,784.99 L1436.75,787.54 L1437.66,790.09 L1438.57,792.64 L1439.49,795.19 L1440.40,797.74 L1441.31,800.30 L1442.23,802.85 L1443.14,805.41 L1444.05,807.98 L1444.97,810.54 L1445.88,813.11 L1446.79,815.67 L1447.71,818.24 L1448.62,820.82 L1449.53,823.39 L1450.45,825.96 L1451.36,828.54 L1452.27,831.12 L1453.19,833.70 L1454.10,836.28 L1455.01,838.87 L1455.93,841.45 L1456.84,844.04 L1457.75,846.63 L1458.66,849.22 L1459.58,851.82 L1460.49,854.41 L1461.40,857.01 L1462.32,859.61 L1463.23,862.21 L1464.14,864.81 L1465.06,867.41 L1465.97,870.02 L1466.88,872.62 L1467.80,875.23 L1468.71,877.84 L1469.62,880.45 L1470.54,883.06 L1471.45,885.67 L1472.36,888.29 L1473.28,890.91 L1474.19,893.52 L1475.10,896.14 L1476.02,898.76 L1476.93,901.39 L1477.84,904.01 L1478.76,906.64 L1479.67,909.26 L1480.58,911.89 L1481.50,914.52 L1482.41,917.15 L1483.32,919.78 L1484.24,922.41 L1485.15,925.05 L1486.06,927.68 L1486.98,930.32 L1487.89,932.95 L1488.80,935.59 L1489.72,938.23 L1490.63,940.87 L1491.54,943.52 L1492.46,946.16 L1493.37,948.81 L1494.28,951.45 L1495.20,954.10 L1496.11,956.75 L1497.02,959.39 L1497.94,962.04 L1498.85,964.70 L1499.76,967.35 L1500.68,970.00 L1501.59,972.66 L1502.50,975.31 L1503.42,977.97 L1504.33,980.62 L1505.24,983.28 L1506.16,985.94 L1507.07,988.60 L1507.98,991.26 L1508.90,993.93 L1509.81,996.59 L1510.72,999.25 L1511.64,1001.92 L1512.55,1004.58 L1513.46,1007.25 L1514.38,1009.92 L1515.29,1012.59 L1516.20,1015.25 L1517.12,1017.93 L1518.03,1020.60 L1518.94,1023.27 L1519.86,1025.94 L1520.77,1028.61 L1521.68,1031.29 L1522.60,1033.96 L1523.51,1036.64 L1524.42,1039.32 L1525.34,1041.99 L1526.25,1044.67 L1527.16,1047.35 L1528.08,1050.03 L1528.99,1052.71 L1529.90,1055.39 L1530.82,1058.07 L1531.73,1060.75 L1532.64,1063.44 L1533.56,1066.12 L1534.47,1068.81 L1535.38,1071.49 L1536.30,1074.18 L1537.21,1076.86 L1538.12,1079.55 L1539.04,1082.24 L1539.95,1084.93 L1540.86,1087.62 L1541.78,1090.31 L1542.69,1093.00 L1543.60,1095.69 L1544.52,1098.38 L1545.43,1101.07 L1546.34,1103.76 L1547.26,1106.46 L1548.17,1109.15 L1549.08,1111.84 L1549.99,1114.54 L1550.91,1117.23 L1551.82,1119.93 L1552.73,1122.63 L1553.65,1125.32 L1554.56,1128.02 L1555.47,1130.72 L1556.39,1133.42 L1557.30,1136.12 L1558.21,1138.82 L1559.13,1141.52 L1560.04,1144.22 L1560.95,1146.92 L1561.87,1149.62 L1562.78,1152.32 L1563.69,1155.03 L1564.61,1157.73 L1565.52,1160.43 L1566.43,1163.14 L1567.35,1165.84 L1568.26,1168.55 L1569.17,1171.25 L1570.09,1173.96 L1571.00,1176.66 L1571.91,1179.37 L1572.83,1182.08 L1573.74,1184.79 L1574.65,1187.49 L1575.57,1190.20 L1576.48,1192.91 L1577.39,1195.62 L1578.31,1198.33 L1579.22,1201.04 L1580.13,1203.75 L1581.05,1206.46 L1581.96,1209.17 L1582.87,1211.88 L1583.79,1214.59 L1584.70,1217.31 L1585.61,1220.02 L1586.53,1222.73 L1587.44,1225.44 L1588.35,1228.16 L1589.27,1230.87 L1590.18,1233.59 L1591.09,1236.30 L1592.01,1239.02 L1592.92,1241.73 L1593.83,1244.45 L1594.75,1247.16 L1595.66,1249.88 L1596.57,1252.59 L1597.49,1255.31 L1598.40,1258.03 L1599.31,1260.75 L1600.23,1263.46 L1601.14,1266.18 L1602.05,1268.90 L1602.97,1271.62 L1603.88,1274.34 L1604.79,1277.06 L1605.71,1279.77 L1606.62,1282.49 L1607.53,1285.21 L1608.45,1287.93 L1609.36,1290.65 L1610.27,1293.37 L1611.19,1296.10 L1612.10,1298.82 L1613.01,1301.54 L1613.93,1304.26 L1614.84,1306.98 L1615.75,1309.70 L1616.67,1312.43 L1617.58,1315.15 L1618.49,1317.87 L1619.41,1320.59 L1620.32,1323.32 L1621.23,1326.04 L1622.15,1328.77 L1623.06,1331.49 L1623.97,1334.21 L1624.89,1336.94 L1625.80,1339.66 L1626.71,1342.39 L1627.63,1345.11 L1628.54,1347.84 L1629.45,1350.56 L1630.37,1353.29 L1631.28,1356.01 L1632.19,1358.74 L1633.11,1361.47 L1634.02,1364.19 L1634.93,1366.92 L1635.85,1369.65 L1636.76,1372.37 L1637.67,1375.10 L1638.59,1377.83 L1639.50,1380.55 L1640.41,1383.28 L1641.32,1386.01 L1642.24,1388.74 L1643.15,1391.47 L1644.06,1394.19 L1644.98,1396.92 L1645.89,1399.65 L1646.80,1402.38 L1647.72,1405.11 L1648.63,1407.84 L1649.54,1410.57 L1650.46,1413.30 L1651.37,1416.03 L1652.28,1418.76 L1653.20,1421.49 L1654.11,1424.22 L1655.02,1426.95 L1655.94,1429.68 L1656.85,1432.41 L1657.76,1435.14 L1658.68,1437.87 L1659.59,1440.60 L1660.50,1443.33 L1661.42,1446.06 L1662.33,1448.79 L1663.24,1451.52 L1664.16,1454.26 L1665.07,1456.99 L1665.98,1459.72 L1666.90,1462.45 L1667.81,1465.18 L1668.72,1467.92 L1669.64,1470.65 L1670.55,1473.38 L1671.46,1476.11 L1672.38,1478.85 L1673.29,1481.58 L1674.20,1484.31 L1675.12,1487.04 L1676.03,1489.78 L1676.94,1492.51 L1677.86,1495.24 L1678.77,1497.98 L1679.68,1500.71 L1680.07,1501.88" stroke="#0000ff" stroke-width="10" fill="none" stroke-linejoin="round"/>
<circle cx="1080.4" cy="274.0" r="17.5" stroke="#0000ff" stroke-width="10" fill="none"/>
<circle cx="1190.4" cy="380.9" r="17.5" stroke="#0000ff" stroke-width="10" fill="none"/>
<circle cx="1262.4" cy="486.9" r="17.5" stroke="#0000ff" stroke-width="10" fill="none"/>
<circle cx="1316.6" cy="558.9" r="17.5" stroke="#0000ff" stroke-width="10" fill="none"/>
<circle cx="1345.0" cy="601.5" r="17.5" stroke="#0000ff" stroke-width="10" fill="none"/>
<circle cx="1368.5" cy="669.3" r="17.5" stroke="#0000ff" stroke-width="10" fill="none"/>
<circle cx="1372.5" cy="717.0" r="17.5" stroke="#0000ff" stroke-width="10" fill="none"/>
<circle cx="1357.4" cy="817.4" r="17.5" stroke="#0000ff" stroke-width="10" fill="none"/>
<circle cx="556.1" cy="1147.2" r="17.5" stroke="#0000ff" stroke-width="10" fill="none"/>
<path d="M467.7,1271.5H644.2" stroke="#0000ff" stroke-width="10.5" stroke-dasharray="36.5 33.5"/>
<path d="M467.7,1397.0H644.8" stroke="#0000ff" stroke-width="10.5"/>
<text transform="translate(230.69,162.40) scale(0.9603,1)" font-size="93" fill="#262626" stroke="#262626" stroke-width="1.0" font-family="&apos;Liberation Sans&apos;, Arial, Helvetica, sans-serif">10</text>
<text transform="translate(333.60,116.85) scale(0.9498,1)" font-size="75" fill="#262626" stroke="#262626" stroke-width="1.0" font-family="&apos;Liberation Sans&apos;, Arial, Helvetica, sans-serif">0</text>
<text transform="translate(207.77,625.25) scale(0.9486,1)" font-size="93" fill="#262626" stroke="#262626" stroke-width="1.0" font-family="&apos;Liberation Sans&apos;, Arial, Helvetica, sans-serif">10</text>
<text transform="translate(309.34,579.30) scale(0.9864,1)" font-size="75" fill="#262626" stroke="#262626" stroke-width="1.0" font-family="&apos;Liberation Sans&apos;, Arial, Helvetica, sans-serif">-2</text>
<text transform="translate(207.66,1086.50) scale(0.9507,1)" font-size="93" fill="#262626" stroke="#262626" stroke-width="1.0" font-family="&apos;Liberation Sans&apos;, Arial, Helvetica, sans-serif">10</text>
<text transform="translate(309.41,1040.30) scale(0.9614,1)" font-size="75" fill="#262626" stroke="#262626" stroke-width="1.0" font-family="&apos;Liberation Sans&apos;, Arial, Helvetica, sans-serif">-4</text>
<text transform="translate(207.66,1549.50) scale(0.9507,1)" font-size="93" fill="#262626" stroke="#262626" stroke-width="1.0" font-family="&apos;Liberation Sans&apos;, Arial, Helvetica, sans-serif">10</text>
<text transform="translate(309.31,1503.45) scale(0.9955,1)" font-size="75" fill="#262626" stroke="#262626" stroke-width="1.0" font-family="&apos;Liberation Sans&apos;, Arial, Helvetica, sans-serif">-6</text>
<text transform="translate(321.73,1651.50) scale(0.9550,1)" font-size="93" fill="#262626" stroke="#262626" stroke-width="1.0" font-family="&apos;Liberation Sans&apos;, Arial, Helvetica, sans-serif">10</text>
<text transform="translate(423.44,1605.10) scale(0.9864,1)" font-size="75" fill="#262626" stroke="#262626" stroke-width="1.0" font-family="&apos;Liberation Sans&apos;, Arial, Helvetica, sans-serif">-2</text>
<text transform="translate(1065.78,1651.30) scale(0.9475,1)" font-size="93" fill="#262626" stroke="#262626" stroke-width="1.0" font-family="&apos;Liberation Sans&apos;, Arial, Helvetica, sans-serif">10</text>
<text transform="translate(1167.70,1605.05) scale(0.9471,1)" font-size="75" fill="#262626" stroke="#262626" stroke-width="1.0" font-family="&apos;Liberation Sans&apos;, Arial, Helvetica, sans-serif">0</text>
<text transform="translate(1794.66,1651.30) scale(0.9496,1)" font-size="93" fill="#262626" stroke="#262626" stroke-width="1.0" font-family="&apos;Liberation Sans&apos;, Arial, Helvetica, sans-serif">10</text>
<text transform="translate(1895.87,1605.40) scale(0.9943,1)" font-size="75" fill="#262626" stroke="#262626" stroke-width="1.0" font-family="&apos;Liberation Sans&apos;, Arial, Helvetica, sans-serif">2</text>
<text x="1009.61" y="1789.40" font-size="102.3" fill="#262626" stroke="#262626" stroke-width="1.0" font-family="&apos;Liberation Sans&apos;, Arial, Helvetica, sans-serif" >Suction</text>
<text x="1380.05" y="1789.40" font-size="102.3" fill="#262626" stroke="#262626" stroke-width="1.0" font-family="&apos;Liberation Sans&apos;, Arial, Helvetica, sans-serif" >(</text>
<text x="1416.75" y="1789.40" font-size="102.3" fill="#262626" stroke="#262626" stroke-width="1.0" font-family="&apos;Liberation Sans&apos;, Arial, Helvetica, sans-serif" >kPa</text>
<text x="1597.83" y="1789.40" font-size="102.3" fill="#262626" stroke="#262626" stroke-width="1.0" font-family="&apos;Liberation Sans&apos;, Arial, Helvetica, sans-serif" >)</text>
<text transform="translate(111.4,850.9) rotate(-90) scale(1,0.968)" font-size="102.3" fill="#262626" stroke="#262626" stroke-width="1.0" font-family="&apos;Liberation Sans&apos;, Arial, Helvetica, sans-serif">k<tspan font-size="80" dx="1.4" dy="51.6">r</tspan></text>
<text x="1635.73" y="305.10" font-size="81.2" fill="#000" stroke="#000" stroke-width="1.0" font-family="&apos;Liberation Sans&apos;, Arial, Helvetica, sans-serif" >ID 1014</text>
<text x="1635.56" y="410.30" font-size="81.2" fill="#000" stroke="#000" stroke-width="1.0" font-family="&apos;Liberation Sans&apos;, Arial, Helvetica, sans-serif" >C</text>
<text x="1694.78" y="451.30" font-size="65" fill="#000" stroke="#000" stroke-width="1.0" font-family="&apos;Liberation Sans&apos;, Arial, Helvetica, sans-serif" >u</text>
<text x="1733.12" y="410.30" font-size="81.2" fill="#000" stroke="#000" stroke-width="1.0" font-family="&apos;Liberation Sans&apos;, Arial, Helvetica, sans-serif" >=9.34</text>
<text x="1635.39" y="550.30" font-size="81.2" fill="#000" stroke="#000" stroke-width="1.0" font-family="&apos;Liberation Sans&apos;, Arial, Helvetica, sans-serif" >d</text>
<text x="1682.28" y="591.30" font-size="65" fill="#000" stroke="#000" stroke-width="1.0" font-family="&apos;Liberation Sans&apos;, Arial, Helvetica, sans-serif" >60</text>
<text x="1756.32" y="550.30" font-size="81.2" fill="#000" stroke="#000" stroke-width="1.0" font-family="&apos;Liberation Sans&apos;, Arial, Helvetica, sans-serif" >=0.19mm</text>
<text x="656.60" y="1176.40" font-size="81.7" fill="#000" stroke="#000" stroke-width="1.0" font-family="&apos;Liberation Sans&apos;, Arial, Helvetica, sans-serif" >Measured</text>
<text transform="translate(658.03,1287.20) scale(1.164,1)" font-size="79.3" fill="#000" font-family="&apos;Liberation Serif&apos;, &apos;Times New Roman&apos;, serif" font-style="italic">α</text>
<text x="734.09" y="1285.20" font-size="81.7" fill="#000" stroke="#000" stroke-width="1.0" font-family="&apos;Liberation Sans&apos;, Arial, Helvetica, sans-serif" >uncorrected,</text>
<text transform="translate(1215.41,1287.21) scale(1.16,1)" font-size="82" fill="#000" font-family="&apos;Liberation Serif&apos;, &apos;Times New Roman&apos;, serif" font-style="italic">ϕ</text>
<text x="1265.16" y="1325.50" font-size="65" fill="#000" stroke="#000" stroke-width="1.0" font-family="&apos;Liberation Sans&apos;, Arial, Helvetica, sans-serif" >0</text>
<text x="1302.20" y="1285.20" font-size="81.7" fill="#000" stroke="#000" stroke-width="1.0" font-family="&apos;Liberation Sans&apos;, Arial, Helvetica, sans-serif" >=0.302</text>
<text transform="translate(658.03,1429.00) scale(1.164,1)" font-size="79.3" fill="#000" font-family="&apos;Liberation Serif&apos;, &apos;Times New Roman&apos;, serif" font-style="italic">α</text>
<text x="733.87" y="1427.20" font-size="81.7" fill="#000" stroke="#000" stroke-width="1.0" font-family="&apos;Liberation Sans&apos;, Arial, Helvetica, sans-serif" >corrected,</text>
<text transform="translate(1124.81,1429.11) scale(1.16,1)" font-size="82" fill="#000" font-family="&apos;Liberation Serif&apos;, &apos;Times New Roman&apos;, serif" font-style="italic">ϕ</text>
<text x="1174.60" y="1427.20" font-size="81.7" fill="#000" stroke="#000" stroke-width="1.0" font-family="&apos;Liberation Sans&apos;, Arial, Helvetica, sans-serif" >=0.45</text>
</svg></body></html>
